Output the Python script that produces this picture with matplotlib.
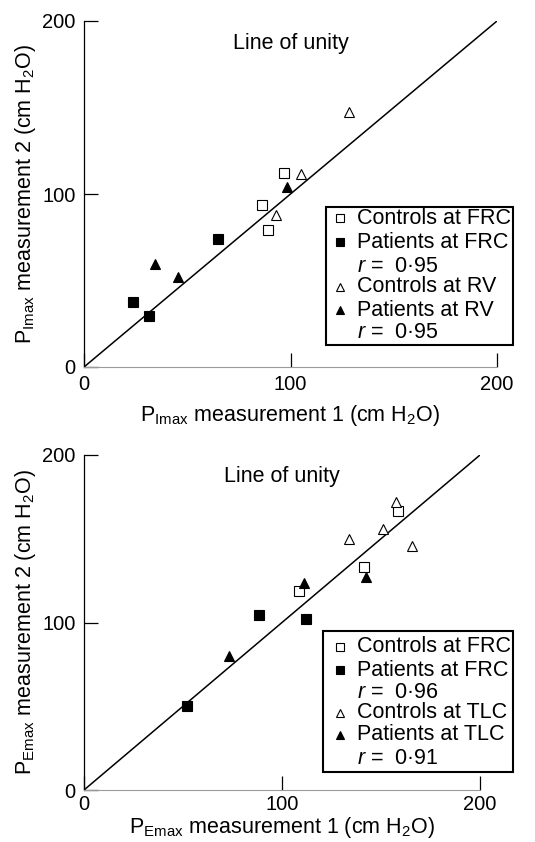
import matplotlib
matplotlib.use('Agg')
import matplotlib.pyplot as plt
from matplotlib.patches import Rectangle
from matplotlib.lines import Line2D

plt.rcParams['font.family'] = ['Liberation Sans', 'DejaVu Sans']
plt.rcParams['mathtext.fontset'] = 'custom'
plt.rcParams['mathtext.rm'] = 'Liberation Sans'
plt.rcParams['mathtext.it'] = 'Liberation Sans:italic'

# Panel 1: PImax
pi_ctrl_frc_x = [97.0, 86.3, 89.2]
pi_ctrl_frc_y = [112.3, 93.6, 79.2]
pi_pat_frc_x = [23.9, 31.5, 64.9]
pi_pat_frc_y = [37.4, 29.5, 73.8]
pi_ctrl_rv_x = [128.3, 105.2, 93.1]
pi_ctrl_rv_y = [147.6, 111.6, 87.9]
pi_pat_rv_x = [34.4, 45.5, 98.5]
pi_pat_rv_y = [59.5, 51.8, 104.2]
pi_labels = ['Controls at FRC', 'Patients at FRC', '$r$ =  0·95',
             'Controls at RV', 'Patients at RV', '$r$ =  0·95']

# Panel 2: PEmax
pe_ctrl_frc_x = [158.7, 141.6, 108.4]
pe_ctrl_frc_y = [166.7, 132.9, 119.0]
pe_pat_frc_x = [52.0, 88.6, 112.0]
pe_pat_frc_y = [50.3, 104.5, 102.1]
pe_ctrl_tlc_x = [157.7, 150.8, 133.8, 165.8]
pe_ctrl_tlc_y = [172.1, 155.8, 149.8, 145.4]
pe_pat_tlc_x = [73.1, 111.1, 142.4]
pe_pat_tlc_y = [79.8, 123.6, 127.3]
pe_labels = ['Controls at FRC', 'Patients at FRC', '$r$ =  0·96',
             'Controls at TLC', 'Patients at TLC', '$r$ =  0·91']

W, H = 535, 842
fig = plt.figure(figsize=(W / 100, H / 100), dpi=100)

def px(x, y):
    return x / W, 1 - y / H

def setup(ax, xlab, ylab, xpad, tpad):
    ax.set_xlim(0, 200)
    ax.set_ylim(0, 200)
    ax.plot([0, 200], [0, 200], color='k', lw=1.1)
    ax.spines['top'].set_visible(False)
    ax.spines['right'].set_visible(False)
    ax.spines['bottom'].set_color('#9a9a9a')
    ax.spines['bottom'].set_linewidth(0.8)
    ax.spines['left'].set_linewidth(0.9)
    ax.set_xticks([0, 100, 200])
    ax.set_yticks([0, 100, 200])
    ax.tick_params(direction='in', length=10, width=0.9, labelsize=14.5, pad=6)
    ax.tick_params(axis='x', pad=tpad)
    ax.set_xlabel(xlab, fontsize=15.5, labelpad=xpad)
    ax.set_ylabel(ylab, fontsize=15.5, labelpad=3)
    ax.text(100, 187, 'Line of unity', ha='center', va='center', fontsize=15.5)

def points(ax, x, y, marker, filled):
    ax.plot(x, y, ls='none', marker=marker, ms=6.5, mec='k', mew=0.8,
            mfc='k' if filled else 'white', clip_on=False)

def legend_box(x0, y0, x1, y1, rows, labels):
    fig.add_artist(Rectangle(px(x0, y1), (x1 - x0) / W, (y1 - y0) / H,
                             transform=fig.transFigure, fill=False, lw=1.5, ec='k'))
    styles = [('s', False), ('s', True), None, ('^', False), ('^', True), None]
    for yy, lab, st in zip(rows, labels, styles):
        if st is not None:
            m, f = st
            fig.add_artist(Line2D([px(340, yy)[0]], [px(340, yy)[1]], transform=fig.transFigure,
                                  ls='none', marker=m, ms=5.5, mec='k', mew=0.8,
                                  mfc='k' if f else 'white'))
        fig.text(*px(357, yy), lab, ha='left', va='center', fontsize=15.5)

ax1 = fig.add_axes([84 / W, 1 - 367 / H, (497 - 84) / W, (367 - 21) / H])
setup(ax1, 'P$_{\\mathrm{Imax}}$ measurement 1 (cm H$_2$O)',
      'P$_{\\mathrm{Imax}}$ measurement 2 (cm H$_2$O)', 6, 6)
points(ax1, pi_ctrl_frc_x, pi_ctrl_frc_y, 's', False)
points(ax1, pi_pat_frc_x, pi_pat_frc_y, 's', True)
points(ax1, pi_ctrl_rv_x, pi_ctrl_rv_y, '^', False)
points(ax1, pi_pat_rv_x, pi_pat_rv_y, '^', True)
legend_box(326, 207, 513, 345, [218, 242, 266, 287, 310, 333], pi_labels)

ax2 = fig.add_axes([84 / W, 1 - 790 / H, (480 - 84) / W, (790 - 455) / H])
setup(ax2, 'P$_{\\mathrm{Emax}}$ measurement 1 (cm H$_2$O)',
      'P$_{\\mathrm{Emax}}$ measurement 2 (cm H$_2$O)', 0.5, 3.5)
points(ax2, pe_ctrl_frc_x, pe_ctrl_frc_y, 's', False)
points(ax2, pe_pat_frc_x, pe_pat_frc_y, 's', True)
points(ax2, pe_ctrl_tlc_x, pe_ctrl_tlc_y, '^', False)
points(ax2, pe_pat_tlc_x, pe_pat_tlc_y, '^', True)
legend_box(323, 631, 513, 772, [647, 670, 693, 713, 735, 759], pe_labels)

fig.savefig('out.png', dpi=100)
